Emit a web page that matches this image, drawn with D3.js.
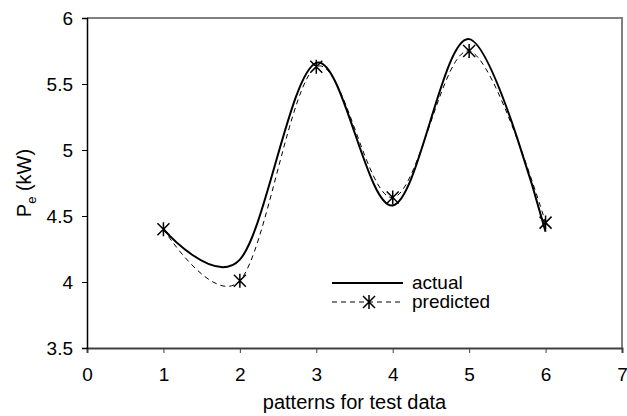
<!DOCTYPE html>
<html>
<head>
<meta charset="utf-8">
<script src="https://cdn.jsdelivr.net/npm/d3@7"></script>
<style>
  body { margin: 0; background: #fff; }
  text { font-family: Arial, "Liberation Sans", sans-serif; fill: #000; }
</style>
</head>
<body>
<div id="chart"></div>
<script>
const patterns = [1, 2, 3, 4, 5, 6];
const actual = [4.40, 4.17, 5.66, 4.58, 5.84, 4.38];
const predicted = [4.40, 4.01, 5.63, 4.64, 5.75, 4.45];
const xTicks = [0, 1, 2, 3, 4, 5, 6, 7];
const yTicks = [3.5, 4, 4.5, 5, 5.5, 6];

const width = 627;
const height = 416;
const margin = { top: 18, right: 5, bottom: 68, left: 87 };

const svg = d3.select("#chart")
    .append("svg")
    .attr("width", width)
    .attr("height", height);

const x = d3.scaleLinear().domain([0, 7]).range([margin.left, width - margin.right]);
const y = d3.scaleLinear().domain([3.5, 6]).range([height - margin.bottom, margin.top]);

// frame (top and right in gray)
svg.append("path")
    .attr("d", `M${x(0)},${y(6)}H${x(7)}V${y(3.5)}`)
    .attr("fill", "none")
    .attr("stroke", "#808080")
    .attr("stroke-width", 2);

// X axis
const xAxis = svg.append("g")
    .attr("transform", `translate(0,${y(3.5)})`)
    .call(d3.axisBottom(x).tickValues(xTicks).tickSize(5).tickPadding(15).tickFormat(d3.format("d")));
xAxis.select(".domain").attr("stroke", "#404040").attr("stroke-width", 2);
xAxis.selectAll(".tick line").attr("stroke", "#404040");
xAxis.selectAll("text").style("font-size", "19px").attr("fill", "#000");

// Y axis
const yAxis = svg.append("g")
    .attr("transform", `translate(${x(0)},0)`)
    .call(d3.axisLeft(y).tickValues(yTicks).tickSize(5).tickPadding(9).tickFormat(d => d));
yAxis.select(".domain").attr("stroke", "#000").attr("stroke-width", 1.5);
yAxis.selectAll(".tick line").attr("stroke", "#000");
yAxis.selectAll("text").style("font-size", "19px").attr("fill", "#000");

// axis titles
svg.append("text")
    .attr("x", (x(0) + x(7)) / 2)
    .attr("y", 409)
    .attr("text-anchor", "middle")
    .style("font-size", "20px")
    .text("patterns for test data");

const yTitle = svg.append("text")
    .attr("transform", `translate(31,${(y(3.5) + y(6)) / 2}) rotate(-90)`)
    .attr("text-anchor", "middle")
    .style("font-size", "20px");
yTitle.append("tspan").text("P");
yTitle.append("tspan").attr("dy", 5).style("font-size", "13px").text("e");
yTitle.append("tspan").attr("dy", -5).text(" (kW)");

const line = d3.line()
    .x((d, i) => x(patterns[i]))
    .y(d => y(d))
    .curve(d3.curveCatmullRom.alpha(0));

// predicted (dashed)
svg.append("path")
    .datum(predicted)
    .attr("fill", "none")
    .attr("stroke", "#000")
    .attr("stroke-width", 1)
    .attr("stroke-dasharray", "5,4")
    .attr("d", line);

// actual (solid)
svg.append("path")
    .datum(actual)
    .attr("fill", "none")
    .attr("stroke", "#000")
    .attr("stroke-width", 2)
    .attr("d", line);

// star markers
const star = (g, cx, cy) => {
    const s = 6;
    g.append("path")
        .attr("d", `M${cx - s},${cy - s}L${cx + s},${cy + s}M${cx - s},${cy + s}L${cx + s},${cy - s}M${cx},${cy - s - 1}L${cx},${cy + s + 1}`)
        .attr("stroke", "#000")
        .attr("stroke-width", 1.5)
        .attr("fill", "none");
};
const markers = svg.append("g");
predicted.forEach((v, i) => star(markers, x(patterns[i]), y(v)));

// Legend
const legend = svg.append("g").attr("transform", "translate(332,283)");
legend.append("line")
    .attr("x1", 0).attr("x2", 71)
    .attr("y1", 0).attr("y2", 0)
    .attr("stroke", "#000").attr("stroke-width", 2);
legend.append("text")
    .attr("x", 80).attr("y", 6)
    .style("font-size", "19px")
    .text("actual");
legend.append("line")
    .attr("x1", 0).attr("x2", 71)
    .attr("y1", 19).attr("y2", 19)
    .attr("stroke", "#000").attr("stroke-width", 1)
    .attr("stroke-dasharray", "5,4");
star(legend, 37, 19);
legend.append("text")
    .attr("x", 80).attr("y", 25)
    .style("font-size", "19px")
    .text("predicted");
</script>
</body>
</html>
